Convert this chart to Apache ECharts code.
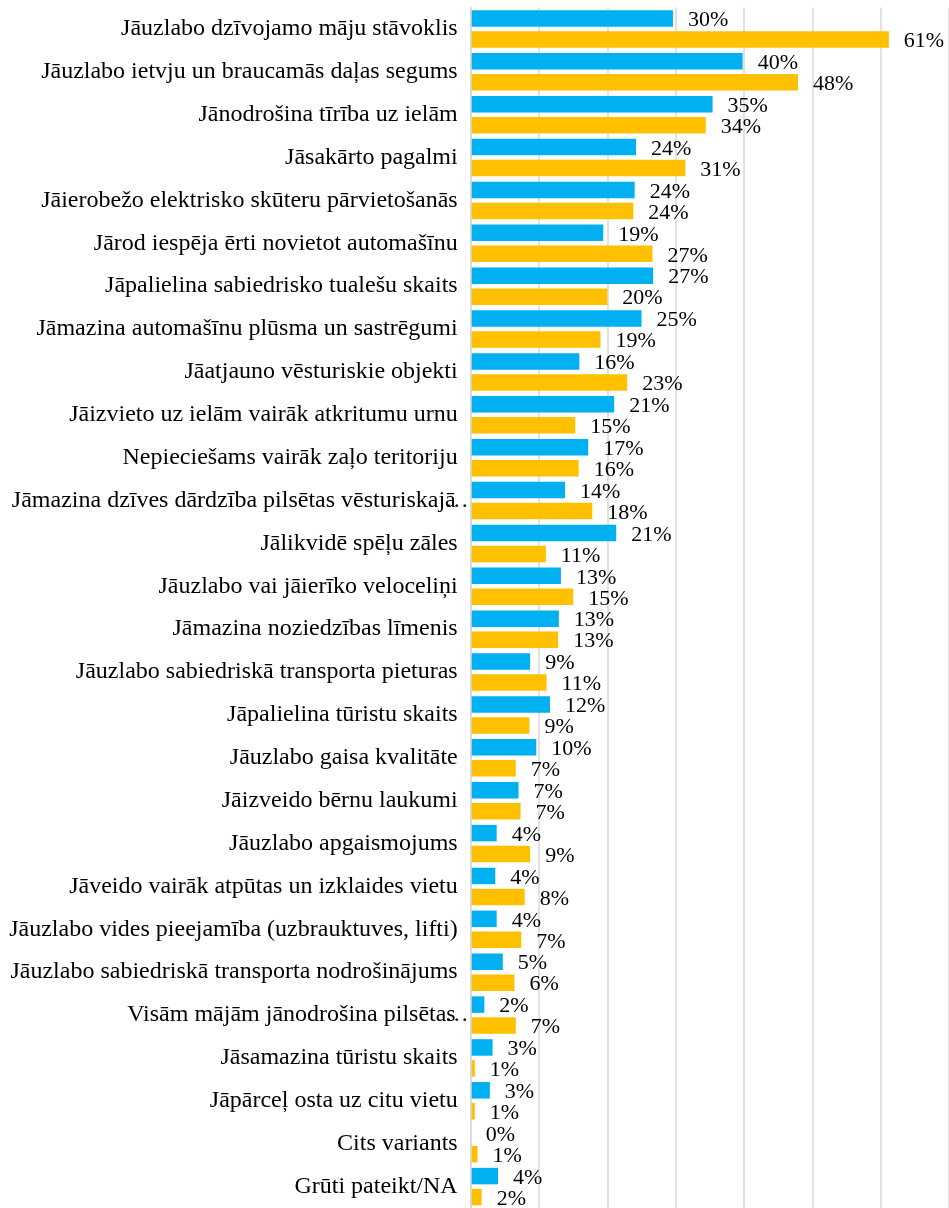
<!DOCTYPE html>
<html>
<head>
<meta charset="utf-8">
<script src="https://cdn.jsdelivr.net/npm/echarts@6/dist/echarts.min.js"></script>
<style>
html,body{margin:0;padding:0;background:#fff;}
#c{width:949px;height:1208px;}
</style>
</head>
<body>
<div id="c"></div>
<script>
var categories = [
  "Jāuzlabo dzīvojamo māju stāvoklis",
  "Jāuzlabo ietvju un braucamās daļas segums",
  "Jānodrošina tīrība uz ielām",
  "Jāsakārto pagalmi",
  "Jāierobežo elektrisko skūteru pārvietošanās",
  "Jārod iespēja ērti novietot automašīnu",
  "Jāpalielina sabiedrisko tualešu skaits",
  "Jāmazina automašīnu plūsma un sastrēgumi",
  "Jāatjauno vēsturiskie objekti",
  "Jāizvieto uz ielām vairāk atkritumu urnu",
  "Nepieciešams vairāk zaļo teritoriju",
  "Jāmazina dzīves dārdzība pilsētas vēsturiskajā…",
  "Jālikvidē spēļu zāles",
  "Jāuzlabo vai jāierīko veloceliņi",
  "Jāmazina noziedzības līmenis",
  "Jāuzlabo sabiedriskā transporta pieturas",
  "Jāpalielina tūristu skaits",
  "Jāuzlabo gaisa kvalitāte",
  "Jāizveido bērnu laukumi",
  "Jāuzlabo apgaismojums",
  "Jāveido vairāk atpūtas un izklaides vietu",
  "Jāuzlabo vides pieejamība (uzbrauktuves, lifti)",
  "Jāuzlabo sabiedriskā transporta nodrošinājums",
  "Visām mājām jānodrošina pilsētas…",
  "Jāsamazina tūristu skaits",
  "Jāpārceļ osta uz citu vietu",
  "Cits variants",
  "Grūti pateikt/NA"
];
var seriesBlue = [29.6, 39.8, 35.4, 24.2, 24.0, 19.4, 26.7, 25.0, 15.9, 21.0, 17.2, 13.8, 21.3, 13.2, 12.9, 8.7, 11.6, 9.6, 7.0, 3.8, 3.6, 3.8, 4.7, 2.0, 3.2, 2.8, 0, 4.0];
var seriesGold = [61.2, 47.9, 34.4, 31.4, 23.8, 26.6, 20.0, 19.0, 22.9, 15.3, 15.8, 17.8, 11.0, 15.0, 12.8, 11.1, 8.6, 6.6, 7.3, 8.7, 7.9, 7.4, 6.4, 6.6, 0.6, 0.6, 1.0, 1.6];
var axisMax = 70;
var axisInterval = 10;

var FONT = "'Liberation Serif', 'Times New Roman', serif";
var chart = echarts.init(document.getElementById('c'), null, {renderer: 'canvas'});
var labelCfg = {
  show: true,
  position: 'right',
  distance: 15,
  offset: [0, 2],
  fontFamily: FONT,
  fontSize: 22,
  color: '#000',
  formatter: function (p) { return Math.round(p.value) + '%'; }
};
chart.setOption({
  animation: false,
  backgroundColor: '#fff',
  grid: {left: 470.7, right: 0, top: 7.5, height: 1202.5},
  xAxis: {
    type: 'value', min: 0, max: axisMax, interval: axisInterval, z: 0,
    axisLabel: {show: false}, axisTick: {show: false}, axisLine: {show: false},
    splitLine: {show: true, lineStyle: {color: '#d9d9d9', width: 1.5}}
  },
  yAxis: {
    type: 'category', inverse: true, data: categories, z: 5,
    axisTick: {show: false},
    axisLine: {show: true, lineStyle: {color: '#d9d9d9', width: 1.5}},
    axisLabel: {
      margin: 13,
      fontFamily: FONT, fontSize: 24, color: '#000',
      formatter: function (v) {
        if (v.charAt(v.length - 1) === '…') {
          return '{t|' + v.slice(0, -1) + '}{e|…}';
        }
        return '{t|' + v + '}';
      },
      rich: {
        t: {fontFamily: FONT, fontSize: 24, color: '#000'},
        e: {fontFamily: FONT, fontSize: 24, color: '#000', width: 2, align: 'left'}
      }
    }
  },
  series: [
    {type: 'bar', data: seriesBlue, barWidth: 16.5, barGap: '27%', z: 1,
     itemStyle: {color: '#00B0F0'}, label: labelCfg},
    {type: 'bar', data: seriesGold, barWidth: 16.5, barGap: '27%', z: 1,
     itemStyle: {color: '#FFC000'}, label: labelCfg}
  ]
});
</script>
</body>
</html>
